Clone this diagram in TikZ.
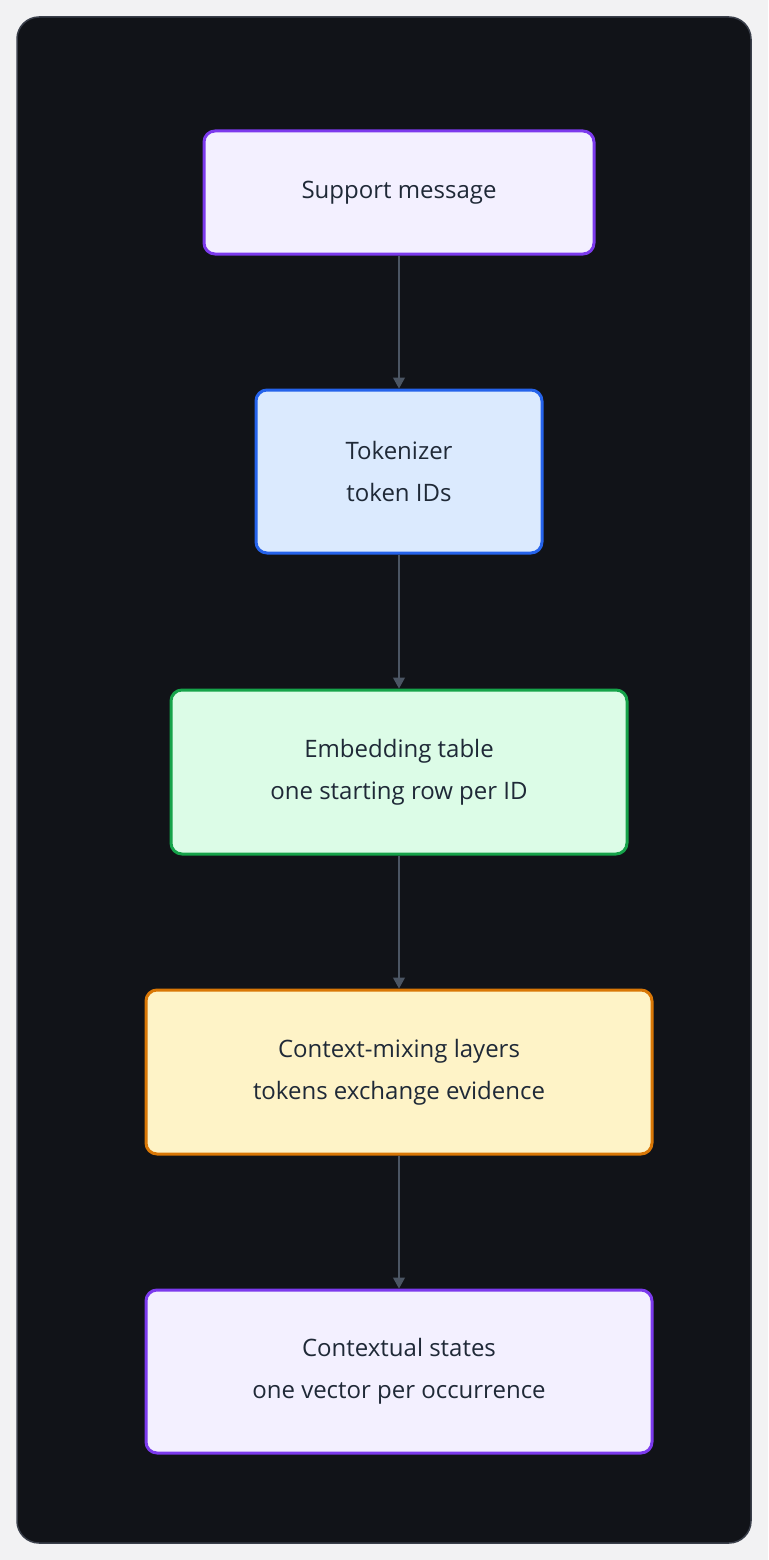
\documentclass[tikz,border=0pt]{standalone}
\usepackage{fontspec}
\setmainfont{Open Sans}
\usetikzlibrary{arrows.meta}
\definecolor{pagebg}{HTML}{F2F2F3}
\definecolor{panel}{HTML}{111318}
\definecolor{panelline}{HTML}{3A3F4A}
\definecolor{txt}{HTML}{1F2937}
\definecolor{edge}{HTML}{4B5563}
\definecolor{purpfill}{HTML}{F3F0FF}
\definecolor{purpline}{HTML}{7C3AED}
\definecolor{bluefill}{HTML}{DBEAFE}
\definecolor{blueline}{HTML}{2563EB}
\definecolor{greenfill}{HTML}{DCFCE7}
\definecolor{greenline}{HTML}{16A34A}
\definecolor{yellfill}{HTML}{FEF3C7}
\definecolor{yellline}{HTML}{D97706}
\begin{document}
\begin{tikzpicture}[x=1pt, y=-1pt,
  box/.style={draw, line width=3pt, rounded corners=11pt, align=center, text=txt,
    font=\fontsize{24}{42}\selectfont, inner sep=0pt},
  flow/.style={draw=edge, line width=1.2pt, -{Triangle[length=11pt,width=12pt]}}]
  \useasboundingbox (0,0) rectangle (768,1560);
  \fill[pagebg] (0,0) rectangle (768,1560);
  \draw[fill=panel, draw=panelline, line width=1.5pt, rounded corners=22pt] (17,17) rectangle (751,1543);
  \node[box, fill=purpfill, draw=purpline, minimum width=390pt, minimum height=123pt] (msg) at (399,192.5) {Support message};
  \node[box, fill=bluefill, draw=blueline, minimum width=286pt, minimum height=163pt] (tok) at (399,471.5) {Tokenizer\\token IDs};
  \node[box, fill=greenfill, draw=greenline, minimum width=456pt, minimum height=164pt] (emb) at (399,772) {Embedding table\\one starting row per ID};
  \node[box, fill=yellfill, draw=yellline, minimum width=506pt, minimum height=164pt] (mix) at (399,1072) {Context-mixing layers\\tokens exchange evidence};
  \node[box, fill=purpfill, draw=purpline, minimum width=506pt, minimum height=163pt] (ctx) at (399,1371.5) {Contextual states\\one vector per occurrence};
  \draw[flow] (msg) -- (tok);
  \draw[flow] (tok) -- (emb);
  \draw[flow] (emb) -- (mix);
  \draw[flow] (mix) -- (ctx);
\end{tikzpicture}
\end{document}
